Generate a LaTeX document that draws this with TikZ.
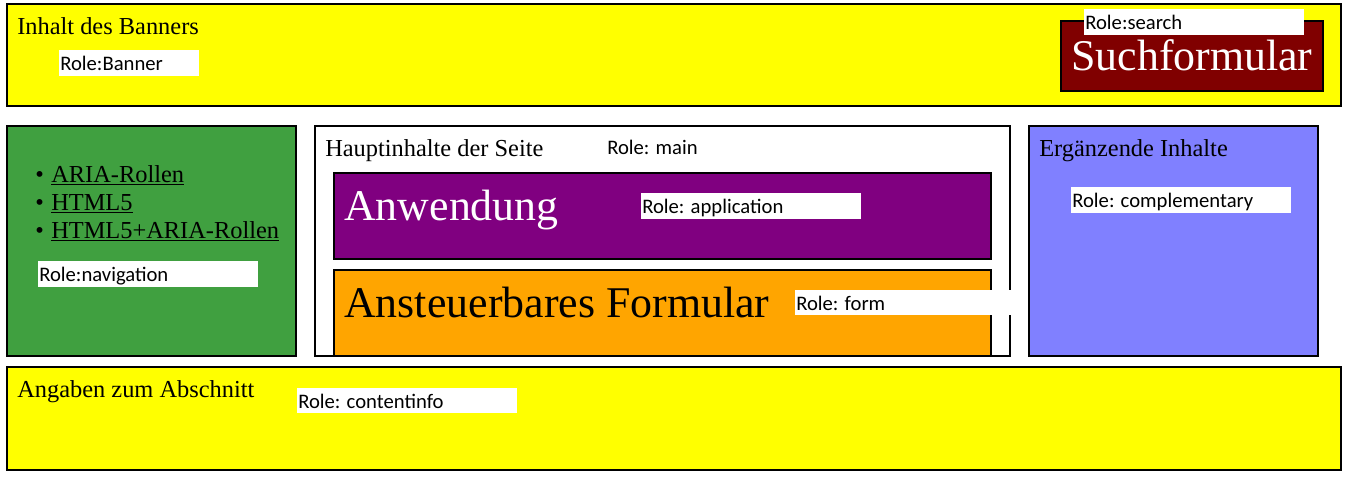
\documentclass[tikz,border=0pt]{standalone}
\usepackage{fontspec}
\setmainfont{Liberation Serif}
\newfontfamily\rolefont{Carlito}
\definecolor{ylw}{RGB}{255,255,0}
\definecolor{maroonx}{RGB}{128,0,0}
\definecolor{grn}{RGB}{64,160,64}
\definecolor{purp}{RGB}{128,0,128}
\definecolor{orng}{RGB}{255,165,0}
\definecolor{lav}{RGB}{128,128,255}
\begin{document}
\begin{tikzpicture}[x=0.75pt,y=-0.75pt,
  box/.style={draw=black,line width=1.5pt},
  rolebg/.style={fill=white},
  serif/.style={font=\fontsize{18.3}{21}\selectfont,inner sep=0pt,anchor=base west},
  big/.style={font=\fontsize{32.9}{38}\selectfont,inner sep=0pt,anchor=base west},
  roletxt/.style={font=\rolefont\fontsize{15.5}{18}\selectfont,inner sep=0pt,anchor=base west}]
\useasboundingbox (0,0) rectangle (1347,479);
% banner
\draw[box,fill=ylw] (7,4) rectangle (1341,106);
\node[serif] (bannertxt) at (17,34) {Inhalt des Banners};
\fill[rolebg] (59,50) rectangle (199,76);
\node[roletxt] (bannerrole) at (60,70) {Role:Banner};
\draw[box,fill=maroonx] (1061,21) rectangle (1323,91);
\node[big,text=white] (such) at (1071,70) {Suchformular};
\fill[rolebg] (1084,9) rectangle (1304,35);
\node[roletxt] (searchrole) at (1085,29) {Role:search};
% navigation
\draw[box,fill=grn] (7,126) rectangle (296,356);
\node[serif] (b1) at (35,182) {•};
\node[serif] (l1) at (51,182) {\underline{ARIA-Rollen}};
\node[serif] (b2) at (35,210) {•};
\node[serif] (l2) at (51,210) {\underline{HTML5}};
\node[serif] (b3) at (35,238) {•};
\node[serif] (l3) at (51,238) {\underline{HTML5+ARIA-Rollen}};
\fill[rolebg] (38,261) rectangle (258,287);
\node[roletxt] (navrole) at (39,281) {Role:navigation};
% main
\draw[box,fill=white] (315,126) rectangle (1010,356);
\node[serif] (maintxt) at (325,156) {Hauptinhalte der Seite};
\node[roletxt] (mainrole) at (607,154) {Role: main};
\draw[box,fill=purp] (334,173) rectangle (991,259);
\node[big,text=white] (anw) at (344,220) {Anwendung};
\fill[rolebg] (641,193) rectangle (861,219);
\node[roletxt] (approle) at (642,213) {Role: application};
\draw[box,fill=orng] (334,270) rectangle (991,356);
\node[big] (form) at (344,317) {Ansteuerbares Formular};
\fill[rolebg] (795,290) rectangle (1012,315);
\node[roletxt] (formrole) at (796,310) {Role: form};
% complementary
\draw[box,fill=lav] (1029,126) rectangle (1318,356);
\node[serif] (comptxt) at (1039,156) {Ergänzende Inhalte};
\fill[rolebg] (1071,187) rectangle (1291,213);
\node[roletxt] (comprole) at (1072,207) {Role: complementary};
% contentinfo
\draw[box,fill=ylw] (7,367) rectangle (1341,470);
\node[serif] (infotxt) at (17,397) {Angaben zum Abschnitt};
\fill[rolebg] (297,388) rectangle (517,413);
\node[roletxt] (inforole) at (298,408) {Role: contentinfo};
\end{tikzpicture}
\end{document}
